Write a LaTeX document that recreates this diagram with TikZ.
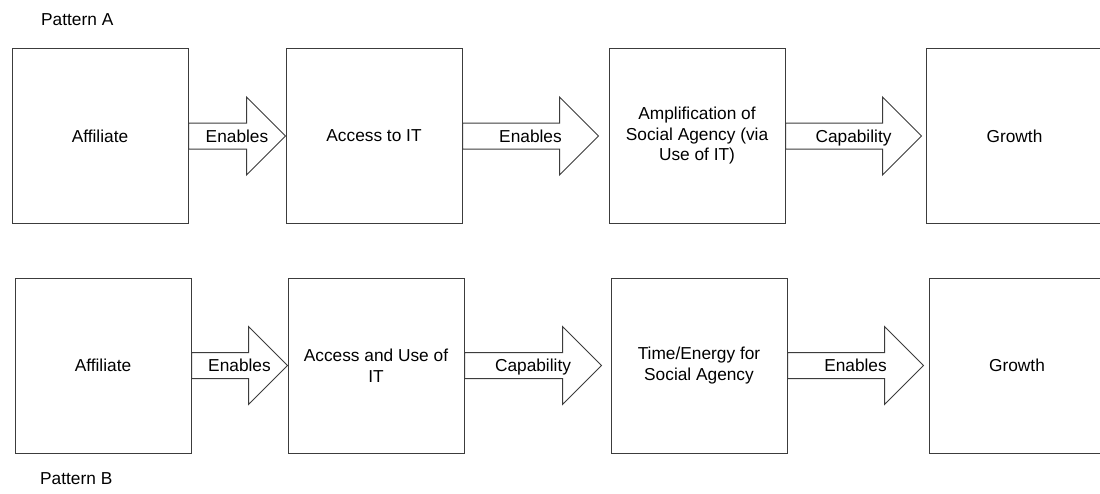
\documentclass[tikz,border=0pt]{standalone}
\usepackage{fontspec}
\setmainfont{Liberation Sans}
\usetikzlibrary{calc}
\definecolor{lc}{RGB}{60,60,60}
\newcommand\diafont{\fontsize{17.3}{20.5}\selectfont}
\begin{document}
\begin{tikzpicture}[x=1pt,y=-1pt,
  box/.style={draw=lc, line width=1pt, minimum width=176pt, minimum height=175pt, inner sep=0pt, align=center, font=\diafont},
  fatarrow/.style={draw=lc, fill=white, line width=1pt, line join=miter},
  lbl/.style={font=\diafont, inner sep=0pt, anchor=base, yshift=-6pt},
  ttl/.style={font=\diafont, inner sep=0pt, anchor=base west}]
\useasboundingbox (0,0) rectangle (1100,493);
\clip (0,0) rectangle (1100,493);

% Titles
\node[ttl] (pa) at (41,25) {Pattern A};
\node[ttl] (pb) at (40,484) {Pattern B};

% Row A boxes
\node[box] (a1) at (100,136) {Affiliate};
\node[box] (a2) at (374,136) {Access to IT};
\node[box] (a3) at (697,136) {Amplification of\\Social Agency (via\\Use of IT)};
\node[box] (a4) at (1014.5,136) {Growth};

% Row B boxes
\node[box] (b1) at (103,365.5) {Affiliate};
\node[box] (b2) at (376,365.5) {Access and Use of\\IT};
\node[box] (b3) at (699,365.5) {Time/Energy for\\Social Agency};
\node[box] (b4) at (1017,365.5) {Growth};

% Tips of the block arrows
\coordinate (ta1) at (a2.west);
\coordinate (ta2) at ($(a3.west)+(-10,0)$);
\coordinate (ta3) at ($(a4.west)+(-4.5,0)$);
\coordinate (tb1) at (b2.west);
\coordinate (tb2) at ($(b3.west)+(-9,0)$);
\coordinate (tb3) at ($(b4.west)+(-5,0)$);

% Block arrows from a box to a tip
\foreach \s/\t in {a1/ta1, a2/ta2, a3/ta3, b1/tb1, b2/tb2, b3/tb3}{
  \draw[fatarrow] let \p1=(\s.east), \p2=(\t) in
    (\x1,\y1+13pt) -- (\x2-39pt,\y1+13pt) -- (\x2-39pt,\y1+39pt) -- (\x2,\y1)
    -- (\x2-39pt,\y1-39pt) -- (\x2-39pt,\y1-13pt) -- (\x1,\y1-13pt) -- cycle;
}

% Arrow labels
\node[lbl] (la1) at ($(a1.east)!0.5!(ta1)$) {Enables};
\node[lbl] (la2) at ($(a2.east)!0.5!(ta2)$) {Enables};
\node[lbl] (la3) at ($(a3.east)!0.5!(ta3)$) {Capability};
\node[lbl] (lb1) at ($(b1.east)!0.5!(tb1)$) {Enables};
\node[lbl] (lb2) at ($(b2.east)!0.5!(tb2)$) {Capability};
\node[lbl] (lb3) at ($(b3.east)!0.5!(tb3)$) {Enables};
\end{tikzpicture}
\end{document}
